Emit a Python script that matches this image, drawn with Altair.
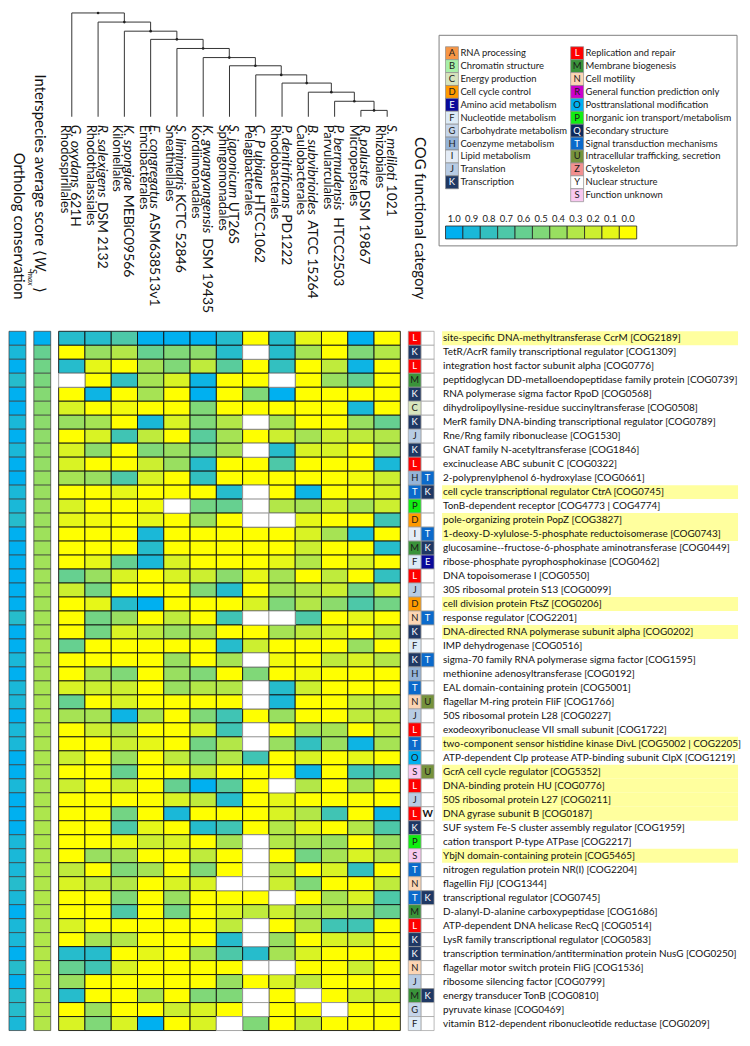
import altair as alt
import pandas as pd

FONT = "Lato"

# ---------------- data ----------------
orders = ["Rhodospirillales", "Rhodothalassiales", "Kiloniellales", "Emcibacterales",
          "Sneathiellales", "Kordiimonadales", "Sphingomonadales", "Pelagibacterales",
          "Rhodobacterales", "Caulobacterales", "Parvularculales", "Micropepsales", "Rhizobiales"]
species_italic = ["G. oxydans", "R. salexigens", "K. spongiae", "E. congregatus", "S. limimaris",
                  "K. gwangyangensis", "S. japonicum", "C. P ubique", "P. denitrificans",
                  "B. subvibrioides", "P. bermudensis", "R. palustre", "S. meliloti"]
species_strain = ["621H", "DSM 2132", "MEBiC09566", "ASM638513v1", "KCTC 52846", "DSM 19435",
                  "UT26S", "HTCC1062", "PD1222", "ATCC 15264", "HTCC2503", "DSM 19867", "1021"]
# ladder dendrogram: merge k joins leaf k with the cluster of leaves k+1..12
merge_heights = [11.4, 10.4, 9.4, 8.5, 7.5, 6.5, 5.6, 4.6, 3.7, 2.7, 1.7, 0.7]

genes = [
    "site-specific DNA-methyltransferase CcrM [COG2189]",
    "TetR/AcrR family transcriptional regulator [COG1309]",
    "integration host factor subunit alpha [COG0776]",
    "peptidoglycan DD-metalloendopeptidase family protein [COG0739]",
    "RNA polymerase sigma factor RpoD [COG0568]",
    "dihydrolipoyllysine-residue succinyltransferase [COG0508]",
    "MerR family DNA-binding transcriptional regulator [COG0789]",
    "Rne/Rng family ribonuclease [COG1530]",
    "GNAT family N-acetyltransferase [COG1846]",
    "excinuclease ABC subunit C [COG0322]",
    "2-polyprenylphenol 6-hydroxylase [COG0661]",
    "cell cycle transcriptional regulator CtrA [COG0745]",
    "TonB-dependent receptor [COG4773 | COG4774]",
    "pole-organizing protein PopZ [COG3827]",
    "1-deoxy-D-xylulose-5-phosphate reductoisomerase [COG0743]",
    "glucosamine--fructose-6-phosphate aminotransferase [COG0449]",
    "ribose-phosphate pyrophosphokinase [COG0462]",
    "DNA topoisomerase I [COG0550]",
    "30S ribosomal protein S13 [COG0099]",
    "cell division protein FtsZ [COG0206]",
    "response regulator [COG2201]",
    "DNA-directed RNA polymerase subunit alpha [COG0202]",
    "IMP dehydrogenase [COG0516]",
    "sigma-70 family RNA polymerase sigma factor [COG1595]",
    "methionine adenosyltransferase [COG0192]",
    "EAL domain-containing protein [COG5001]",
    "flagellar M-ring protein FliF [COG1766]",
    "50S ribosomal protein L28 [COG0227]",
    "exodeoxyribonuclease VII small subunit [COG1722]",
    "two-component sensor histidine kinase DivL [COG5002 | COG2205]",
    "ATP-dependent Clp protease ATP-binding subunit ClpX [COG1219]",
    "GcrA cell cycle regulator [COG5352]",
    "DNA-binding protein HU [COG0776]",
    "50S ribosomal protein L27 [COG0211]",
    "DNA gyrase subunit B [COG0187]",
    "SUF system Fe-S cluster assembly regulator [COG1959]",
    "cation transport P-type ATPase [COG2217]",
    "YbjN domain-containing protein [COG5465]",
    "nitrogen regulation protein NR(I) [COG2204]",
    "flagellin FljJ [COG1344]",
    "transcriptional regulator [COG0745]",
    "D-alanyl-D-alanine carboxypeptidase [COG1686]",
    "ATP-dependent DNA helicase RecQ [COG0514]",
    "LysR family transcriptional regulator [COG0583]",
    "transcription termination/antitermination protein NusG [COG0250]",
    "flagellar motor switch protein FliG [COG1536]",
    "ribosome silencing factor [COG0799]",
    "energy transducer TonB [COG0810]",
    "pyruvate kinase [COG0469]",
    "vitamin B12-dependent ribonucleotide reductase [COG0209]",
]
cog1 = ["L", "K", "L", "M", "K", "C", "K", "J", "K", "L", "H", "T", "P", "D", "I", "M", "F",
        "L", "J", "D", "N", "K", "F", "K", "H", "T", "N", "J", "L", "T", "O", "S", "L", "J",
        "L", "K", "P", "S", "T", "N", "T", "M", "L", "K", "K", "N", "J", "M", "G", "F"]
cog2 = ["", "", "", "", "", "", "", "", "", "", "T", "K", "", "", "T", "K", "E",
        "", "", "", "T", "", "", "T", "", "", "U", "", "", "", "", "U", "", "",
        "W", "", "", "", "", "", "K", "", "", "", "", "", "", "K", "", ""]
highlighted = [0, 11, 13, 14, 19, 21, 29, 31, 32, 33, 34, 37]

ortholog = [1.0, 0.9, 1.0, 0.85, 1.0, 1.0, 0.9, 1.0, 0.9, 1.0, 1.0, 0.9, 0.9, 0.85, 1.0, 1.0, 1.0,
            1.0, 1.0, 1.0, 0.85, 1.0, 1.0, 0.9, 1.0, 0.9, 0.9, 1.0, 0.9, 0.9, 1.0, 1.0, 0.9, 1.0,
            1.0, 1.0, 0.9, 0.9, 0.9, 0.85, 0.9, 1.0, 0.9, 0.9, 1.0, 0.85, 1.0, 0.85, 0.85, 0.9]
interspecies = [1.0, 0.6, 0.56, 0.52, 0.48, 0.46, 0.45, 0.44, 0.43, 0.42, 0.41, 0.4, 0.39, 0.39,
                0.38, 0.38, 0.37, 0.37, 0.36, 0.36, 0.36, 0.35, 0.35, 0.35, 0.35, 0.34, 0.34,
                0.34, 0.34, 0.33, 0.33, 0.33, 0.33, 0.33, 0.32, 0.32, 0.32, 0.32, 0.32, 0.31,
                0.31, 0.31, 0.31, 0.31, 0.3, 0.3, 0.3, 0.3, 0.3, 0.3]

N = None
heat = [
    [0.85, 0.85, 0.7, 1.0, 1.0, 1.0, 0.85, 0.0, 0.85, 0.1, 0.0, 1.0, 0.0],
    [0.0, 0.4, 0.3, 0.6, 0.5, 0.45, 0.85, N, 0.85, 0.35, 0.0, 0.5, 0.3],
    [0.85, 0.1, 0.0, 0.35, 0.5, 0.25, 0.65, 0.0, 0.8, 0.0, 0.25, 0.95, 0.0],
    [N, 0.0, 0.8, 0.35, 0.15, 0.95, 0.0, 0.0, N, 0.0, 0.4, 0.6, 0.0],
    [0.0, 0.95, 0.0, 0.35, 0.0, 1.0, 0.0, 0.5, 1.0, 0.0, 0.0, 0.0, 0.0],
    [0.15, 0.0, 0.05, 0.0, 0.0, 0.5, 0.0, 0.0, 0.0, 0.0, 0.0, 0.9, 0.0],
    [0.4, 0.35, 0.0, 0.9, 0.15, 0.5, 0.3, N, 0.35, 0.0, 0.0, 0.4, 0.6],
    [0.0, 0.15, 0.75, 0.25, 0.0, 0.65, 0.35, 0.0, 0.2, 0.35, 0.2, 0.25, 0.3],
    [0.15, 0.45, 0.0, 0.5, 0.4, 0.55, 0.35, N, 0.85, 0.15, 0.15, 0.0, 0.35],
    [0.15, 0.0, 0.0, 0.2, 0.4, 0.85, 0.0, 0.0, 0.7, 0.0, 0.0, 0.0, 0.9],
    [0.35, 0.4, 0.7, 0.15, 0.0, 0.8, 0.0, 0.0, 0.0, 0.0, 0.0, 0.05, 0.2],
    [0.0, 0.0, 0.1, 0.0, 0.0, 0.0, 0.85, N, 0.0, 0.95, 0.0, 0.0, 0.15],
    [0.15, 0.0, 0.0, 0.05, N, 0.55, 0.6, N, 0.3, 0.35, 0.2, 0.35, 0.2],
    [0.1, 0.05, 0.0, 0.1, 0.0, 0.4, 0.0, N, N, 0.1, 0.0, 0.0, 0.75],
    [0.0, 0.0, 0.0, 0.9, 0.0, 0.0, 0.0, 0.0, 0.0, 0.15, 0.35, 0.9, 0.0],
    [0.0, 0.0, 0.0, 0.85, 0.0, 0.0, 0.0, 0.0, 0.0, 0.2, 0.0, 0.0, 0.85],
    [0.0, 0.1, 0.6, 0.9, 0.15, 0.0, 0.0, 0.0, 0.1, 0.3, 0.0, 0.15, 0.0],
    [0.6, 0.4, 0.15, 0.0, 0.15, 0.2, 0.45, 0.1, 0.35, 0.0, 0.25, 0.0, 0.8],
    [0.2, 0.55, 0.0, 0.0, 0.0, 0.5, 0.85, 0.0, 0.35, 0.3, 0.2, 0.55, 0.2],
    [0.0, 0.1, 0.85, 1.0, 0.0, 0.0, 0.0, 0.15, 0.5, 0.3, 0.45, 0.7, 0.55],
    [0.0, 0.55, 0.4, 0.0, 0.25, 0.0, 0.75, N, N, 0.7, 0.0, 0.1, 0.0],
    [0.0, 0.55, 0.15, 0.25, 0.4, 0.35, 0.0, 0.0, 0.35, 0.25, 0.15, 0.0, 0.25],
    [0.6, 0.0, 0.0, 0.0, 0.0, 0.0, 0.85, 0.2, 0.0, 0.0, 0.0, 0.4, 0.0],
    [0.0, 0.0, 0.0, 0.0, 0.4, 0.0, 0.35, N, 0.05, 0.0, 0.25, 0.15, 0.3],
    [0.0, 0.35, 0.5, 0.0, 0.4, 0.5, 0.0, 0.5, 0.0, 0.05, 0.0, 0.0, 0.0],
    [0.15, 0.2, 0.2, 0.0, 0.4, 0.3, 0.3, N, 0.85, 0.2, 0.0, 0.0, 0.0],
    [0.6, 0.0, 0.15, 0.0, 0.0, 0.0, 0.0, N, 0.9, 0.0, 0.0, 0.25, 0.3],
    [0.35, 0.35, 0.95, 0.35, 0.0, 0.5, 0.75, 0.0, 0.4, 0.0, 0.0, 0.25, 0.25],
    [0.0, 0.2, 0.3, 0.0, 0.0, 0.15, 0.75, N, 0.0, 0.35, 0.35, 0.0, 0.25],
    [0.0, 0.0, 0.2, 0.1, 0.0, 0.55, 0.3, N, 0.4, 0.8, 0.4, 0.95, 0.35],
    [0.2, 0.0, 0.4, 0.0, 0.25, 0.5, 0.3, 0.75, 0.0, 0.15, 0.0, 0.1, 0.0],
    [0.0, 0.0, 0.6, 0.0, 0.0, 0.2, 0.0, 0.0, 0.0, 0.95, 0.0, 0.75, 0.65],
    [0.2, 0.0, 0.2, 0.0, 0.6, 1.0, 0.65, 0.0, N, 0.3, 0.0, 0.35, 0.0],
    [0.0, 0.0, 0.0, 0.0, 0.15, 0.25, 0.85, 0.0, 0.1, 0.0, 0.0, 0.0, 0.0],
    [0.0, 0.0, 0.55, 0.0, 0.9, 0.0, 0.0, 0.0, 0.15, 0.3, 0.75, 0.0, 0.95],
    [0.0, 0.0, 0.7, 0.1, 0.0, 0.85, 0.75, 0.0, 0.3, 0.1, 0.0, 0.3, 0.7],
    [0.0, 0.0, 0.05, 0.2, 0.15, 0.0, 0.35, N, 0.3, 0.35, 0.4, 0.0, 0.4],
    [0.0, 0.4, 0.35, 0.0, 0.0, 0.25, 0.0, N, 0.0, 0.55, 0.35, 0.15, 0.3],
    [0.25, 0.0, 0.5, 0.35, 0.0, 0.5, 0.0, N, 0.3, 0.0, 0.15, 0.8, 0.0],
    [0.15, 0.25, 0.3, 0.0, 0.15, 0.15, N, N, 0.2, 0.5, 0.0, 0.0, 0.25],
    [0.0, 0.0, 0.5, 0.0, 0.4, 0.0, 0.0, 0.0, N, 0.0, 0.35, 0.15, 0.7],
    [0.0, 0.0, 0.7, 0.0, 0.55, 0.0, 0.15, 0.25, 0.2, 0.35, 0.3, 0.35, 0.6],
    [0.15, 0.0, 0.0, 0.0, 0.0, 0.0, 0.25, N, 0.0, 0.3, 0.75, 0.75, 0.0],
    [0.0, 0.35, 0.3, 0.0, 0.0, 0.0, 0.85, N, 0.4, 0.0, 0.15, 0.2, 0.0],
    [0.85, 0.85, 0.0, 0.1, 0.0, 0.35, 0.7, 0.85, 0.35, 0.15, 0.0, 0.0, 0.0],
    [0.6, 0.75, 0.15, 0.0, 0.0, 0.0, 0.0, N, N, 0.0, 0.0, 0.2, 0.0],
    [0.4, 0.0, 0.0, 0.0, 0.0, 0.0, 0.4, 0.0, 0.15, 0.25, 0.0, 0.0, 0.0],
    [0.85, 0.0, 0.0, 0.35, 0.0, 0.5, 0.5, N, 0.0, N, 0.0, 0.2, 0.2],
    [0.0, 0.4, 0.0, 0.0, 0.2, 0.15, 0.0, N, 0.0, 0.0, N, 0.0, 0.0],
    [0.15, 0.5, 0.15, 1.0, 0.0, 0.15, N, 0.5, 0.0, 0.25, 0.0, 0.0, 0.0],
]

legend_left = ["A", "B", "C", "D", "E", "F", "G", "H", "I", "J", "K"]
legend_right = ["L", "M", "N", "R", "O", "P", "Q", "T", "U", "Z", "Y", "S"]
cog_names = {
    "A": "RNA processing", "B": "Chromatin structure", "C": "Energy production",
    "D": "Cell cycle control", "E": "Amino acid metabolism", "F": "Nucleotide metabolism",
    "G": "Carbohydrate metabolism", "H": "Coenzyme metabolism", "I": "Lipid metabolism",
    "J": "Translation", "K": "Transcription", "L": "Replication and repair",
    "M": "Membrane biogenesis", "N": "Cell motility", "R": "General function prediction only",
    "O": "Posttranslational modification", "P": "Inorganic ion transport/metabolism",
    "Q": "Secondary structure", "T": "Signal transduction mechanisms",
    "U": "Intracellular trafficking, secretion", "Z": "Cytoskeleton", "Y": "Nuclear structure",
    "S": "Function unknown",
}
cog_keys = ["A", "B", "C", "D", "E", "F", "G", "H", "I", "J", "K", "L", "M", "N", "R", "O",
            "P", "Q", "T", "U", "Z", "Y", "S", "W", "none"]
cog_fill = ["#F79646", "#A8F0A8", "#D7E4BD", "#FF9A00", "#0A0A9A", "#DDEBF7", "#C5D5EA",
            "#95B3D7", "#E4ECF6", "#B8CCE4", "#1F3864", "#FF0000", "#3A933A", "#FCD5B4",
            "#CC00CC", "#00B0F0", "#11EE11", "#0E2A5C", "#0B6ACB", "#76923C", "#F29090",
            "#FFFFFF", "#F8C8F0", "#FFFFFF", "#FFFFFF"]
white_ink = ["E", "K", "L", "Q", "T"]
cbar_ticks = ["1.0", "0.9", "0.8", "0.7", "0.6", "0.5", "0.4", "0.3", "0.2", "0.1", "0.0"]
cbar_values = [1.0, 0.9, 0.8, 0.7, 0.6, 0.5, 0.4, 0.3, 0.2, 0.1, 0.0]

# ---------------- helpers ----------------
LATO_W = {'a': 498, 'b': 560, 'c': 463, 'd': 560, 'e': 524, 'f': 325, 'g': 503, 'h': 560, 'i': 240,
          'j': 240, 'k': 509, 'l': 240, 'm': 840, 'n': 560, 'o': 560, 'p': 558, 'q': 560, 'r': 373,
          's': 427, 't': 362, 'u': 560, 'v': 510, 'w': 773, 'x': 497, 'y': 510, 'z': 453,
          'A': 680, 'B': 640, 'C': 680, 'D': 745, 'E': 560, 'F': 544, 'G': 733, 'H': 752, 'I': 290,
          'J': 392, 'K': 668, 'L': 493, 'M': 906, 'N': 752, 'O': 801, 'P': 608, 'Q': 801, 'R': 627,
          'S': 537, 'T': 585, 'U': 721, 'V': 680, 'W': 1013, 'X': 645, 'Y': 625, 'Z': 600,
          '.': 232, ' ': 200}


def text_w(s, size, factor=1.0):
    return sum(LATO_W.get(ch, 540) for ch in s) / 1000.0 * size * factor


NROW = len(genes)
NSP = len(orders)
H = 1026            # whole chart height (all panels share it)
HM_TOP = 322        # heatmap rows occupy [HM_TOP, H]
W1 = 17
HM_W = 344
W4 = 26
LAB_W = 298
DEN_TOP, DEN_BOT = 1.5, 106.0
LABEL_GAP = 8.0
ORD_FS, SP_FS = 13, 14

heat_scale = alt.Scale(domain=[0, 1], range=["#FFFF00", "#00B0F0"], interpolate="rgb")
cog_scale = alt.Scale(domain=cog_keys, range=cog_fill)
ink_scale = alt.Scale(domain=["light", "dark"], range=["#FFFFFF", "#1a1a1a"])
Yrow = alt.Y("row:O", axis=None,
             scale=alt.Scale(domain=list(range(NROW)), range=[HM_TOP, H],
                             paddingInner=0, paddingOuter=0))


def ink_of(c):
    return "light" if c in white_ink else "dark"


def piece(text, x, y, size, align, italic=False):
    kw = dict(font=FONT, fontSize=size, angle=90, align=align, baseline="middle", color="#111111")
    if italic:
        kw["fontStyle"] = "italic"
    return alt.Chart(pd.DataFrame({"t": [text]})).mark_text(**kw).encode(
        x=alt.value(x), y=alt.value(y), text="t:N")


one_band = alt.Scale(paddingInner=0, paddingOuter=0)

# ---------------- column 1: ortholog conservation ----------------
orth_df = pd.DataFrame({"row": list(range(NROW)), "score": ortholog, "col": ["o"] * NROW})
p1 = alt.layer(
    piece("Ortholog conservation", 10.5, 290, 15, "right"),
    alt.Chart(orth_df).mark_rect(stroke="#3a3a3a", strokeWidth=0.7).encode(
        x=alt.X("col:N", axis=None, scale=one_band), y=Yrow,
        fill=alt.Fill("score:Q", scale=heat_scale, legend=None)),
).properties(width=W1, height=H)

# ---------------- column 2: interspecies average score ----------------
inter_df = pd.DataFrame({"row": list(range(NROW)), "score": interspecies, "col": ["i"] * NROW})
p2 = alt.layer(
    piece("Interspecies average score \u27e8", 6.5, 246, 15, "right"),
    piece("W", 6.5, 247, 15, "left", True),
    piece("S", -1, 259, 10, "left", True),
    piece("max", -3.5, 262, 8, "left", True),
    piece("\u27e9", 6.5, 277, 15, "left"),
    alt.Chart(inter_df).mark_rect(stroke="#3a3a3a", strokeWidth=0.7).encode(
        x=alt.X("col:N", axis=None, scale=one_band), y=Yrow,
        fill=alt.Fill("score:Q", scale=heat_scale, legend=None)),
).properties(width=W1, height=H)

# ---------------- column 3: dendrogram + heatmap ----------------
leaf_x = [i + 0.5 for i in range(NSP)]
node_x = [0.0] * (NSP - 1)
node_x[NSP - 2] = (leaf_x[NSP - 2] + leaf_x[NSP - 1]) / 2
for k in range(NSP - 3, -1, -1):
    node_x[k] = (leaf_x[k] + node_x[k + 1]) / 2
segs = []
for k in range(NSP - 1):
    h = merge_heights[k]
    if k == NSP - 2:
        other_x, other_h = leaf_x[NSP - 1], 0.0
    else:
        other_x, other_h = node_x[k + 1], merge_heights[k + 1]
    segs.append({"x": leaf_x[k], "x2": other_x, "h": h, "h2": h})
    segs.append({"x": leaf_x[k], "x2": leaf_x[k], "h": 0.0, "h2": h})
    segs.append({"x": other_x, "x2": other_x, "h": other_h, "h2": h})
seg_df = pd.DataFrame(segs)
node_df = pd.DataFrame({"x": node_x, "h": merge_heights})

col_px = HM_W / NSP
px_per_h = (DEN_BOT - DEN_TOP) / merge_heights[0]
dxs = alt.Scale(domain=[0, NSP], range=[0, HM_W], nice=False, zero=False)
dys = alt.Scale(domain=[0, merge_heights[0]], range=[DEN_BOT, DEN_TOP], nice=False, zero=False)


def DX(f):
    return alt.X(f, scale=dxs, axis=None)


def DY(f):
    return alt.Y(f, scale=dys, axis=None)


rules = alt.Chart(seg_df).mark_rule(color="#333333", strokeWidth=1).encode(
    x=DX("x:Q"), x2="x2:Q", y=DY("h:Q"), y2="h2:Q")
dots = alt.Chart(node_df).mark_circle(size=7, color="#222222", opacity=1).encode(
    x=DX("x:Q"), y=DY("h:Q"))

lab_rows = []
for i in range(NSP):
    w_it = text_w(species_italic[i], SP_FS, 0.97) + 0.22 * SP_FS
    lab_rows.append({
        "order": orders[i], "ital": species_italic[i], "strain": species_strain[i],
        "ox": leaf_x[i] - 7.0 / col_px, "sx": leaf_x[i] + 3.5 / col_px,
        "y0": -LABEL_GAP / px_per_h, "y1": -(LABEL_GAP + w_it) / px_per_h,
    })
lab_df = pd.DataFrame(lab_rows)
tkw = dict(font=FONT, angle=90, align="left", baseline="middle", color="#111111")
ord_txt = alt.Chart(lab_df).mark_text(fontSize=ORD_FS, **tkw).encode(
    x=DX("ox:Q"), y=DY("y0:Q"), text="order:N")
ital_txt = alt.Chart(lab_df).mark_text(fontSize=SP_FS, fontStyle="italic", **tkw).encode(
    x=DX("sx:Q"), y=DY("y0:Q"), text="ital:N")
strain_txt = alt.Chart(lab_df).mark_text(fontSize=SP_FS, **tkw).encode(
    x=DX("sx:Q"), y=DY("y1:Q"), text="strain:N")

heat_rows = []
for r, vals in enumerate(heat):
    for c, v in enumerate(vals):
        heat_rows.append({"row": r, "sp": c, "score": v, "miss": v is None})
heat_df = pd.DataFrame(heat_rows)
sp_scale = alt.Scale(domain=list(range(NSP)), paddingInner=0, paddingOuter=0)
hbase = alt.Chart(heat_df).encode(x=alt.X("sp:O", axis=None, scale=sp_scale), y=Yrow)
cells = hbase.transform_filter("!datum.miss").mark_rect(
    stroke="#111111", strokeWidth=0.9).encode(
    fill=alt.Fill("score:Q", scale=heat_scale, legend=None))
missing = hbase.transform_filter("datum.miss").mark_rect(
    fill="#FFFFFF", stroke="#9a9a9a", strokeWidth=0.9)

p3 = alt.layer(rules, dots, ord_txt, ital_txt, strain_txt, cells, missing).resolve_scale(
    x="independent", y="independent").properties(width=HM_W, height=H)

# ---------------- column 4: COG categories ----------------
cog_rows = []
for r in range(NROW):
    for s, code in enumerate([cog1[r], cog2[r]]):
        cog_rows.append({"row": r, "slot": s, "code": code,
                         "key": code if code else "none",
                         "ink": ink_of(code), "bold": code == "W"})
cog_df = pd.DataFrame(cog_rows)
slot_scale = alt.Scale(domain=[0, 1], paddingInner=0, paddingOuter=0)
cbase = alt.Chart(cog_df).encode(x=alt.X("slot:O", axis=None, scale=slot_scale), y=Yrow)
cog_rect = cbase.mark_rect(stroke="#9c9c9c", strokeWidth=0.7).encode(
    fill=alt.Fill("key:N", scale=cog_scale, legend=None))
cog_txt = cbase.transform_filter("!datum.bold").mark_text(
    font=FONT, fontSize=9.5, baseline="middle").encode(
    text="code:N", color=alt.Color("ink:N", scale=ink_scale, legend=None))
cog_txt_b = cbase.transform_filter("datum.bold").mark_text(
    font=FONT, fontSize=10, fontWeight="bold", baseline="middle", color="#111111").encode(
    text="code:N")
p4 = alt.layer(piece("COG functional category", 11.5, 290, 15, "right"),
               cog_rect, cog_txt, cog_txt_b).properties(width=W4, height=H)

# ---------------- column 5: legend + gene labels ----------------
leg_rows = []
for i, c in enumerate(legend_left):
    leg_rows.append({"code": c, "name": cog_names[c], "lcol": 0, "lrow": i, "ink": ink_of(c)})
for i, c in enumerate(legend_right):
    leg_rows.append({"code": c, "name": cog_names[c], "lcol": 1, "lrow": i, "ink": ink_of(c)})
leg_df = pd.DataFrame(leg_rows)
lx = alt.X("lcol:Q", axis=None, scale=alt.Scale(domain=[0, 1], range=[10, 136], nice=False, zero=False))
ly = alt.Y("lrow:Q", axis=None, scale=alt.Scale(domain=[0, 11], range=[42, 185], nice=False, zero=False))
frame = alt.Chart(pd.DataFrame({"a": [0]})).mark_rect(
    fill="#FFFFFF", fillOpacity=0, stroke="#7f7f7f", strokeWidth=1).encode(
    x=alt.value(-3), x2=alt.value(LAB_W - 1), y=alt.value(24), y2=alt.value(236))
sq = alt.Chart(leg_df).mark_square(size=169, opacity=1, stroke="#8c8c8c", strokeWidth=0.7).encode(
    x=lx, y=ly, fill=alt.Fill("code:N", scale=cog_scale, legend=None))
sq_txt = alt.Chart(leg_df).mark_text(font=FONT, fontSize=9.5, baseline="middle").encode(
    x=lx, y=ly, text="code:N", color=alt.Color("ink:N", scale=ink_scale, legend=None))
nm_txt = alt.Chart(leg_df).mark_text(font=FONT, fontSize=9.5, align="left", baseline="middle",
                                      dx=8.5, color="#1a1a1a").encode(x=lx, y=ly, text="name:N")
cb_df = pd.DataFrame({"tick": cbar_ticks, "score": cbar_values})
cbx = alt.X("tick:N", sort=cbar_ticks, axis=None,
            scale=alt.Scale(domain=cbar_ticks, range=[3.5, 196], paddingInner=0, paddingOuter=0))
cb_rect = alt.Chart(cb_df).mark_rect(stroke="#222222", strokeWidth=0.8).encode(
    x=cbx, y=alt.value(216), y2=alt.value(229),
    fill=alt.Fill("score:Q", scale=heat_scale, legend=None))
cb_txt = alt.Chart(cb_df).mark_text(font=FONT, fontSize=9.5, baseline="middle",
                                     color="#1a1a1a").encode(x=cbx, y=alt.value(209), text="tick:N")

gene_df = pd.DataFrame({"row": list(range(NROW)), "gene": genes,
                        "hl": [i in highlighted for i in range(NROW)]})
lbase = alt.Chart(gene_df).encode(y=Yrow)
hl = lbase.transform_filter("datum.hl").mark_rect(color="#FFFF9E").encode(
    x=alt.value(0), x2=alt.value(LAB_W))
ltxt = lbase.mark_text(font=FONT, fontSize=10, align="left", baseline="middle",
                       color="#111111").encode(x=alt.value(1), text="gene:N")

p5 = alt.layer(frame, sq, sq_txt, nm_txt, cb_rect, cb_txt, hl, ltxt).resolve_scale(
    x="independent", y="independent", fill="independent", color="independent"
).properties(width=LAB_W, height=H)

chart = alt.hconcat(p1, p2, p3, p4, p5, spacing=8, bounds="flush").resolve_scale(
    fill="independent", color="independent").properties(padding=0).configure_view(stroke=None)

chart.save("out.html", embed_options={"renderer": "svg", "actions": False})
